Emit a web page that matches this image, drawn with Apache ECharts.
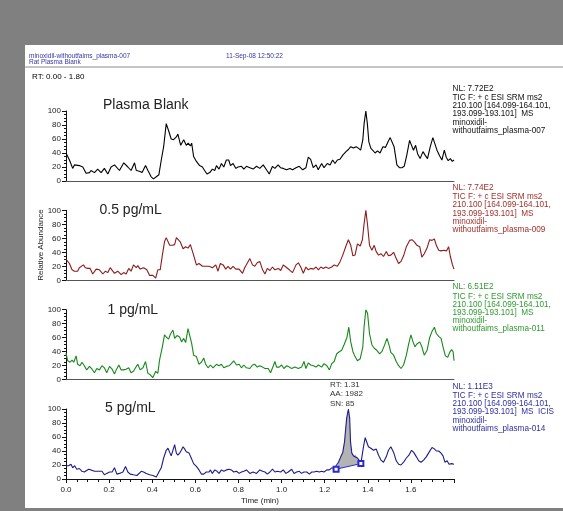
<!DOCTYPE html>
<html>
<head>
<meta charset="utf-8">
<script src="https://cdn.jsdelivr.net/npm/echarts@6/dist/echarts.min.js"></script>
<style>
html,body{margin:0;padding:0;background:#808080;}
#chart{width:563px;height:511px;}
</style>
</head>
<body>
<div id="chart"></div>
<script>
// ---- Data (time in min, relative abundance %) ----
const blankData = [
[0.000,40],[0.008,41],[0.016,30],[0.031,18],[0.039,23],[0.047,25],[0.062,22],[0.078,20],[0.093,11],[0.109,12],
[0.116,15],[0.132,12],[0.147,17],[0.163,12],[0.178,18],[0.194,10],[0.209,20],[0.225,23],[0.248,15],[0.268,26],
[0.287,20],[0.302,15],[0.318,26],[0.326,15],[0.341,14],[0.353,12],[0.369,22],[0.380,15],[0.395,6],[0.406,3],
[0.419,6],[0.431,9],[0.442,30],[0.453,49],[0.465,82],[0.470,84],[0.478,70],[0.488,60],[0.499,59],[0.512,63],
[0.519,67],[0.532,51],[0.546,59],[0.558,51],[0.567,54],[0.577,50],[0.583,54],[0.592,35],[0.605,28],[0.620,22],
[0.633,20],[0.643,15],[0.654,10],[0.667,12],[0.679,17],[0.690,15],[0.698,22],[0.710,17],[0.721,25],[0.732,20],
[0.744,30],[0.755,30],[0.763,22],[0.775,25],[0.788,18],[0.798,20],[0.814,21],[0.825,17],[0.837,21],
[0.853,19],[0.868,17],[0.884,21],[0.899,18],[0.915,23],[0.930,16],[0.943,10],[0.958,21],[0.969,18],[0.984,23],
[0.995,19],[1.008,18],[1.023,16],[1.039,18],[1.051,16],[1.067,19],[1.082,21],[1.098,16],[1.113,19],[1.124,34],
[1.135,31],[1.147,19],[1.160,23],[1.170,16],[1.186,25],[1.197,19],[1.212,25],[1.225,23],[1.237,30],[1.248,25],
[1.259,30],[1.271,31],[1.284,37],[1.299,42],[1.310,45],[1.321,49],[1.333,47],[1.346,49],[1.356,47],[1.367,44],
[1.377,59],[1.383,82],[1.391,100],[1.398,82],[1.405,56],[1.414,47],[1.423,45],[1.434,40],[1.445,43],[1.457,40],
[1.470,49],[1.482,48],[1.494,56],[1.504,62],[1.513,64],[1.522,49],[1.535,23],[1.547,19],[1.558,19],[1.569,21],
[1.581,37],[1.594,58],[1.603,56],[1.612,44],[1.622,51],[1.631,39],[1.643,32],[1.656,42],[1.666,37],[1.677,32],
[1.690,49],[1.702,62],[1.710,61],[1.721,44],[1.733,36],[1.744,30],[1.755,44],[1.764,34],[1.773,29],[1.783,32],
[1.792,28],[1.800,30]
];
const pg05Data = [
[0.000,30],[0.008,30],[0.016,24],[0.028,15],[0.039,13],[0.054,13],[0.062,18],[0.070,16],[0.081,22],[0.090,18],
[0.101,17],[0.112,17],[0.124,9],[0.140,16],[0.155,15],[0.171,9],[0.183,13],[0.194,11],[0.205,18],[0.214,20],
[0.225,10],[0.240,13],[0.256,8],[0.267,11],[0.279,9],[0.291,17],[0.302,13],[0.313,22],[0.326,18],[0.333,21],
[0.344,16],[0.360,18],[0.375,15],[0.388,7],[0.403,7],[0.416,3],[0.426,15],[0.437,15],[0.447,36],[0.457,55],
[0.465,61],[0.473,59],[0.481,50],[0.493,50],[0.504,51],[0.512,61],[0.519,60],[0.530,55],[0.543,45],[0.555,48],
[0.566,46],[0.577,51],[0.586,50],[0.592,36],[0.605,22],[0.617,24],[0.633,20],[0.648,20],[0.664,20],[0.679,18],
[0.695,22],[0.705,13],[0.716,24],[0.729,22],[0.741,16],[0.752,20],[0.763,16],[0.775,20],[0.788,16],[0.803,16],
[0.819,10],[0.829,18],[0.840,24],
[0.853,31],[0.865,22],[0.876,20],[0.887,25],[0.899,27],[0.912,15],[0.923,9],[0.934,17],[0.946,14],[0.958,19],
[0.969,15],[0.985,17],[0.996,14],[1.008,22],[1.020,19],[1.036,15],[1.051,11],[1.067,22],[1.078,25],[1.089,19],
[1.101,10],[1.113,19],[1.124,15],[1.135,17],[1.148,16],[1.160,19],[1.171,15],[1.182,19],[1.194,17],[1.206,19],
[1.217,17],[1.233,19],[1.244,22],[1.259,20],[1.272,27],[1.284,36],[1.300,50],[1.310,58],[1.321,50],[1.331,35],
[1.341,36],[1.352,52],[1.365,49],[1.375,58],[1.383,81],[1.391,100],[1.399,79],[1.408,50],[1.419,43],[1.430,50],
[1.439,41],[1.450,36],[1.461,38],[1.473,34],[1.486,41],[1.496,35],[1.507,36],[1.520,40],[1.532,31],[1.543,24],
[1.554,27],[1.566,35],[1.579,48],[1.594,57],[1.605,58],[1.616,55],[1.628,50],[1.641,48],[1.651,33],[1.662,38],
[1.675,46],[1.687,58],[1.698,57],[1.709,59],[1.718,50],[1.729,43],[1.740,42],[1.752,43],[1.765,42],[1.775,48],
[1.783,34],[1.793,22],[1.800,16]
];
const pg1Data = [
[0.000,38],[0.008,27],[0.019,25],[0.028,28],[0.036,25],[0.047,34],[0.054,22],[0.065,20],[0.074,25],[0.085,20],
[0.096,14],[0.109,19],[0.121,15],[0.132,10],[0.143,16],[0.155,14],[0.167,20],[0.178,17],[0.189,10],[0.202,19],
[0.214,15],[0.225,8],[0.233,14],[0.245,21],[0.256,14],[0.267,14],[0.279,15],[0.291,17],[0.302,10],[0.313,12],
[0.326,19],[0.333,22],[0.344,14],[0.357,17],[0.369,26],[0.380,9],[0.391,7],[0.403,3],[0.416,12],[0.426,9],
[0.434,28],[0.447,47],[0.457,64],[0.465,61],[0.476,58],[0.484,65],[0.496,71],[0.504,59],[0.515,63],[0.527,61],
[0.536,54],[0.546,59],[0.555,53],[0.566,73],[0.574,72],[0.583,52],[0.592,35],[0.605,33],[0.617,22],[0.628,25],
[0.639,31],[0.648,22],[0.659,17],[0.670,21],[0.682,17],[0.698,22],[0.710,20],[0.721,22],[0.732,17],[0.744,19],
[0.757,20],[0.767,23],[0.778,27],[0.791,21],[0.803,22],[0.814,17],[0.825,21],[0.837,17],
[0.853,16],[0.865,21],[0.876,22],[0.887,18],[0.899,20],[0.912,18],[0.923,16],[0.938,16],[0.949,10],[0.962,20],
[0.969,26],[0.977,18],[0.989,18],[1.000,21],[1.011,16],[1.024,20],[1.036,18],[1.047,16],[1.062,18],[1.078,16],
[1.093,18],[1.104,26],[1.113,16],[1.124,24],[1.135,21],[1.148,20],[1.160,18],[1.171,21],[1.186,18],[1.197,23],
[1.210,20],[1.222,14],[1.233,23],[1.244,26],[1.256,37],[1.268,40],[1.279,42],[1.290,50],[1.303,60],[1.312,75],
[1.321,54],[1.331,40],[1.341,33],[1.352,27],[1.365,30],[1.377,47],[1.383,76],[1.391,100],[1.399,95],[1.408,66],
[1.419,50],[1.430,45],[1.442,42],[1.455,37],[1.465,40],[1.476,48],[1.489,59],[1.498,50],[1.507,39],[1.520,35],
[1.532,26],[1.543,20],[1.554,16],[1.566,21],[1.579,35],[1.589,50],[1.600,64],[1.610,54],[1.619,47],[1.628,51],
[1.641,54],[1.651,47],[1.662,35],[1.675,42],[1.687,60],[1.698,69],[1.709,75],[1.718,66],[1.729,62],[1.740,59],
[1.749,47],[1.760,34],[1.771,32],[1.780,39],[1.789,43],[1.796,40],[1.800,27]
];
const pg5Data = [
[0.000,19],[0.012,19],[0.023,21],[0.031,16],[0.040,19],[0.050,14],[0.062,15],[0.074,11],[0.085,10],[0.093,10],
[0.105,14],[0.116,13],[0.132,11],[0.147,11],[0.155,10],[0.167,11],[0.178,6],[0.189,8],[0.202,10],[0.214,10],
[0.225,16],[0.236,7],[0.248,8],[0.264,10],[0.276,18],[0.287,10],[0.298,7],[0.313,6],[0.329,5],[0.338,7],
[0.349,11],[0.360,10],[0.372,8],[0.388,6],[0.403,5],[0.419,3],[0.431,10],[0.442,16],[0.453,30],[0.465,41],
[0.473,44],[0.481,38],[0.488,33],[0.496,41],[0.504,49],[0.512,37],[0.519,34],[0.527,37],[0.535,41],[0.543,46],
[0.550,43],[0.558,39],[0.571,37],[0.581,30],[0.592,22],[0.605,18],[0.617,13],[0.628,7],[0.639,7],[0.651,10],
[0.664,10],[0.670,13],[0.679,8],[0.690,13],[0.701,11],[0.710,8],[0.721,13],[0.732,11],[0.744,13],[0.757,14],
[0.767,13],[0.778,10],[0.791,11],[0.803,8],[0.814,10],[0.825,11],[0.837,13],
[0.853,8],[0.868,10],[0.884,8],[0.899,13],[0.912,11],[0.923,10],[0.934,7],[0.946,10],[0.958,14],[0.969,10],
[0.980,11],[0.996,10],[1.008,13],[1.020,8],[1.031,10],[1.047,14],[1.058,8],[1.070,10],[1.082,11],[1.093,8],
[1.104,10],[1.117,10],[1.129,7],[1.140,10],[1.151,10],[1.163,11],[1.175,10],[1.186,11],[1.197,10],[1.210,13],
[1.222,13],[1.233,16],[1.244,15],[1.253,14],[1.264,24],[1.275,32],[1.284,38],[1.292,53],[1.302,87],[1.310,100],
[1.316,87],[1.320,53],[1.326,37],[1.334,33],[1.343,35],[1.352,30],[1.362,26],[1.368,22],[1.374,34],[1.380,46],
[1.388,59],[1.396,57],[1.403,46],[1.414,44],[1.427,41],[1.439,43],[1.450,34],[1.461,27],[1.473,24],[1.486,32],
[1.496,41],[1.507,46],[1.520,38],[1.532,26],[1.543,21],[1.554,20],[1.566,24],[1.579,30],[1.591,34],[1.603,41],
[1.613,38],[1.625,32],[1.636,26],[1.647,24],[1.659,27],[1.672,32],[1.684,38],[1.698,45],[1.709,43],[1.718,40],
[1.729,40],[1.740,37],[1.749,33],[1.758,24],[1.768,26],[1.777,21],[1.789,22],[1.800,21]
];
// integration baseline of the 5 pg/mL peak (start, end)
const peakBase = [[1.253,14],[1.368,22]];
const panelTitles = ['Plasma Blank','0.5 pg/mL','1 pg/mL','5 pg/mL'];
const nlValues = ['7.72E2','7.74E2','6.51E2','1.11E3'];
const fileIds = ['007','009','011','014'];
const peakInfo = ['RT: 1.31','AA: 1982','SN: 85'];
const xMin = 0, xMax = 1.8, xStep = 0.2;
const yMin = 0, yMax = 100, yStep = 20;

// ---- Layout / style ----
const FONT = '"Liberation Sans", Arial, sans-serif';
const gridLeft = 66, gridWidth = 388, gridH = 70;
const gridTops = [111, 210.3, 309.7, 409];
const lineColors = ['#000000', '#8c1c1c', '#17891a', '#1c1c8c'];
const textColors = ['#111111', '#a2302c', '#2f9b30', '#2f2fa3'];
const allData = [blankData, pg05Data, pg1Data, pg5Data];

const chart = echarts.init(document.getElementById('chart'), null, {renderer: 'canvas'});

const grids = [], xAxes = [], yAxes = [], series = [];
gridTops.forEach((top, i) => {
  const last = i === 3;
  grids.push({left: gridLeft, top: top, width: gridWidth, height: gridH});
  xAxes.push({
    type: 'value', gridIndex: i, min: xMin, max: xMax, interval: xStep,
    axisLine: {show: true, onZero: false, lineStyle: {color: last ? '#111' : '#555', width: 1}},
    axisTick: {show: last, inside: false, length: 4, lineStyle: {color: '#111'}},
    minorTick: {show: last, splitNumber: 4, length: 3, lineStyle: {color: '#111'}},
    axisLabel: {show: last, fontSize: 8, color: '#222', fontFamily: FONT, margin: 7, showMaxLabel: false,
      formatter: v => v.toFixed(1)},
    splitLine: {show: false},
    name: last ? 'Time (min)' : '', nameLocation: 'middle', nameGap: 18,
    nameTextStyle: {fontSize: 8, color: '#222', fontFamily: FONT}
  });
  yAxes.push({
    type: 'value', gridIndex: i, min: yMin, max: yMax, interval: yStep,
    axisLine: {show: true, lineStyle: {color: '#111', width: 1}},
    axisTick: {show: true, length: 4, lineStyle: {color: '#111'}},
    minorTick: {show: true, splitNumber: 4, length: 2, lineStyle: {color: '#111'}},
    axisLabel: {fontSize: 8, color: '#222', fontFamily: FONT, margin: 5},
    splitLine: {show: false}
  });
  series.push({
    type: 'line', xAxisIndex: i, yAxisIndex: i, data: allData[i],
    showSymbol: false, symbol: 'none', z: 3,
    lineStyle: {color: lineColors[i], width: 1.1}, animation: false
  });
});

// shaded integrated peak area
const peakArea = [peakBase[0]]
  .concat(pg5Data.filter(p => p[0] > peakBase[0][0] && p[0] < peakBase[1][0]))
  .concat([peakBase[1]]);
series.push({
  type: 'custom', xAxisIndex: 3, yAxisIndex: 3, data: [[1.31, 50]], z: 2, animation: false,
  renderItem: function (params, api) {
    return {type: 'polygon', shape: {points: peakArea.map(p => api.coord(p))},
      style: {fill: '#b3b3b3', stroke: null}};
  }
});
series.push({
  type: 'line', xAxisIndex: 3, yAxisIndex: 3, data: peakBase, z: 4, animation: false,
  symbol: 'emptyRect', symbolSize: 5, showSymbol: true,
  lineStyle: {color: '#2a2ad0', width: 1}, itemStyle: {color: '#2a2ad0', borderWidth: 1}
});

// ---- Text / decoration ----
const graphic = [
  {type: 'rect', shape: {x: 25, y: 45, width: 538, height: 463}, style: {fill: '#ffffff'}, z: -10},
  {type: 'line', shape: {x1: 25, y1: 67, x2: 563, y2: 67}, style: {stroke: '#8a8a8a', lineWidth: 1}},
  {type: 'text', x: 29, y: 56, style: {text: 'minoxidil-withoutfaims_plasma-007', font: '6.5px ' + FONT, fill: '#3535a8', verticalAlign: 'middle'}},
  {type: 'text', x: 29, y: 62, style: {text: 'Rat Plasma Blank', font: '6.5px ' + FONT, fill: '#3535a8', verticalAlign: 'middle'}},
  {type: 'text', x: 226, y: 56, style: {text: '11-Sep-08 12:50:22', font: '6.5px ' + FONT, fill: '#3535a8', verticalAlign: 'middle'}},
  {type: 'text', x: 32, y: 77, style: {
    text: '{a|RT: }{b|0.00 - 1.80}', verticalAlign: 'middle',
    rich: {a: {fontSize: 8, fontFamily: FONT, color: '#111'}, b: {fontSize: 8, fontFamily: FONT, color: '#3535b0'}}}},
  {type: 'text', x: 41, y: 245, rotation: Math.PI / 2, style: {text: 'Relative Abundance', font: '8px ' + FONT, fill: '#222', align: 'center', verticalAlign: 'middle'}}
];
const titlePos = [[103, 105], [99.5, 210.5], [107.5, 310], [105, 408.5]];
gridTops.forEach((top, i) => {
  graphic.push({type: 'text', x: titlePos[i][0], y: titlePos[i][1],
    style: {text: panelTitles[i], font: '14px ' + FONT, fill: '#222', verticalAlign: 'middle'}});
  const y0 = top - 22.5;
  const lines = [
    ['NL: ' + nlValues[i], 0],
    ['TIC F: + c ESI SRM ms2', 9.2],
    ['210.100 [164.099-164.101,', 17.4],
    ['193.099-193.101]  MS' + (i === 3 ? '  ICIS' : ''), 25.6],
    ['minoxidil-', 33.8],
    ['withoutfaims_plasma-' + fileIds[i], 42]
  ];
  lines.forEach(l => graphic.push({type: 'text', x: 452.5, y: y0 + l[1],
    style: {text: l[0], font: '8.2px ' + FONT, fill: textColors[i], verticalAlign: 'middle'}}));
});
peakInfo.forEach((t, k) => graphic.push({type: 'text', x: 330, y: 385 + k * 9.2,
  style: {text: t, font: '8px ' + FONT, fill: '#333', verticalAlign: 'middle'}}));

chart.setOption({
  backgroundColor: '#808080',
  animation: false,
  grid: grids, xAxis: xAxes, yAxis: yAxes, series: series, graphic: graphic
});
</script>
</body>
</html>
